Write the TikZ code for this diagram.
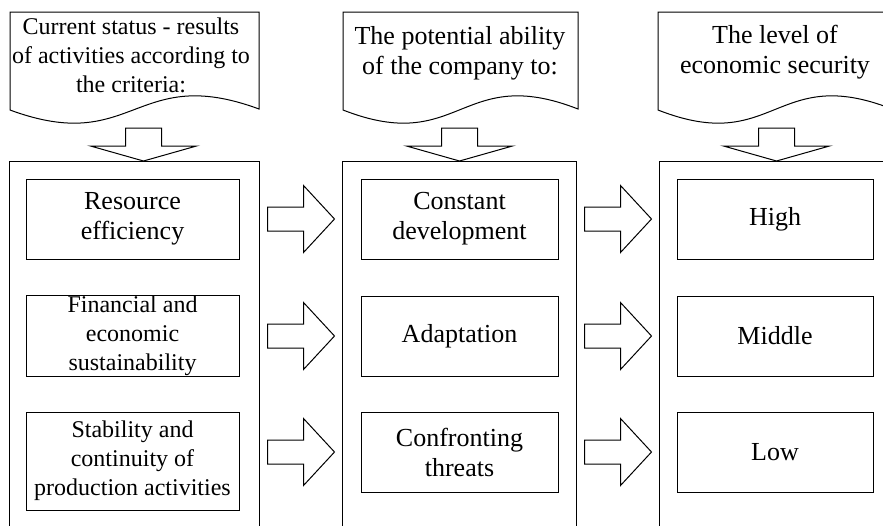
\documentclass[tikz,border=0pt]{standalone}
\usepackage{fontspec}
\setmainfont{Liberation Serif}
\usepackage{tikz}
\usetikzlibrary{calc}

\begin{document}
\begin{tikzpicture}
[
    x = 1pt, y = -1pt,
    frame/.style = {draw, line width = 1pt},
    cell/.style = {draw, line width = 1pt, align = center, inner sep = 0pt,
                   minimum height = 80pt, font = \fontsize{26}{30}\selectfont},
    small/.style = {font = \fontsize{24}{29}\selectfont},
    title/.style = {align = center, inner sep = 0pt, font = \fontsize{26}{30}\selectfont},
    downarrow/.pic = {\draw[line width = 1pt, fill = white]
        (0,0) -- (-53,-15) -- (-18,-15) -- (-18,-33) -- (18,-33) -- (18,-15) -- (53,-15) -- cycle;},
    rightarrow/.pic = {\draw[line width = 1pt, fill = white]
        (-33.5,-12) -- (2.5,-12) -- (2.5,-33.5) -- (33.5,0) -- (2.5,33.5) -- (2.5,12) -- (-33.5,12) -- cycle;},
]
\useasboundingbox (0,0) rectangle (883,525);
\clip (0,0) rectangle (883,525);

% headers
\draw[frame] (10,12) -- (259,12) -- (259,109) .. controls (134.5,63) and (134.5,156) .. (10,110) -- cycle;
\draw[frame] (343,12) -- (578,12) -- (578,109) .. controls (460.5,63) and (460.5,156) .. (343,110) -- cycle;
\draw[frame] (658,12) -- (892,12) -- (892,109) .. controls (775,63) and (775,156) .. (658,110) -- cycle;
\node[title, small] (status) at (131,55) {Current status - results\\of activities according to\\the criteria:};
\node[title] (ability) at (460,53) {The potential ability\\of the company to:};
\node[title] (security) at (775,52) {The level of\\economic security};

% panels
\node[frame, anchor = north west, minimum width = 250pt, minimum height = 400pt] (crit) at (9,161) {};
\node[frame, anchor = north west, minimum width = 234pt, minimum height = 400pt] (pot) at (342,161) {};
\node[frame, anchor = north west, minimum width = 234pt, minimum height = 400pt] (lvl) at (659,161) {};

\pic at ([xshift = 9pt]crit.north) {downarrow};
\pic at (pot.north) {downarrow};
\pic at (lvl.north) {downarrow};

% criteria
\node[cell, minimum width = 213pt] (res) at (132.5,219) {Resource\\efficiency};
\node[cell, small, minimum width = 213pt, minimum height = 81pt] (fin) at (132.5,335.5) {Financial and\\economic\\sustainability};
\node[cell, small, minimum width = 213pt, minimum height = 98pt] (stab) at (132.5,461) {Stability and\\continuity of\\production activities};

% abilities
\node[cell, minimum width = 197pt] (dev) at (459.5,219) {Constant\\development};
\node[cell, minimum width = 197pt] (adapt) at (459.5,336) {Adaptation};
\node[cell, minimum width = 197pt] (conf) at (459.5,452) {Confronting\\threats};

% levels
\node[cell, minimum width = 196pt] (high) at (775,219) {High};
\node[cell, minimum width = 196pt] (mid) at (775,336) {Middle};
\node[cell, minimum width = 196pt] (low) at (775,452) {Low};

% arrows between panels
\foreach \row in {dev, adapt, conf}
    \pic at ($(crit.east |- \row)!0.5!(pot.west |- \row)$) {rightarrow};
\foreach \row in {high, mid, low}
    \pic at ($(pot.east |- \row)!0.5!(lvl.west |- \row)$) {rightarrow};
\end{tikzpicture}
\end{document}
